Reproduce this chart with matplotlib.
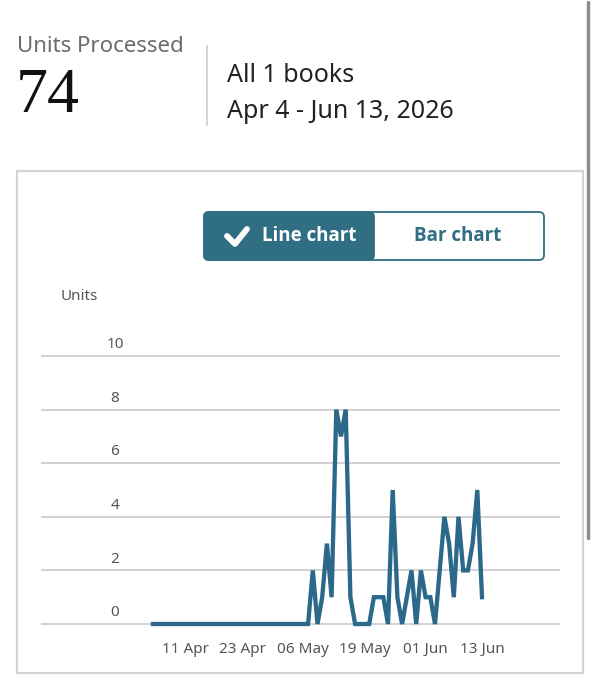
import matplotlib
matplotlib.use("Agg")
import matplotlib.pyplot as plt
import matplotlib.dates as mdates
from matplotlib.patches import FancyBboxPatch, Rectangle
import numpy as np
import pandas as pd

# header texts
title = "Units Processed"
total = "74"
books = "All 1 books"
period = "Apr 4 - Jun 13, 2026"

# daily units, Apr 4 .. Jun 13 2026
start, end = "2026-04-04", "2026-06-13"
units = [0, 0, 0, 0, 0, 0, 0, 0, 0, 0,
         0, 0, 0, 0, 0, 0, 0, 0, 0, 0,
         0, 0, 0, 0, 0, 0, 0, 0, 0, 0,
         0, 0, 0, 0, 2, 0, 1, 3, 1, 8,
         7, 8, 1, 0, 0, 0, 0, 1, 1, 1,
         0, 5, 1, 0, 1, 2, 0, 2, 1, 1,
         0, 2, 4, 3, 1, 4, 2, 2, 3, 5,
         1]
days = pd.date_range(start, end, freq="D")

yticks = [0, 2, 4, 6, 8, 10]
xticks = ["2026-04-11", "2026-04-23", "2026-05-06", "2026-05-19", "2026-06-01", "2026-06-13"]

W, H = 594, 680
teal = "#2f6e83"
line_col = "#2c688a"
grid_col = "#d2d2d2"
txt_col = "#555555"
ui_font = "Noto Sans"
bold_font = "Open Sans"

fig = plt.figure(figsize=(W / 100, H / 100), dpi=100)

# background layer in pixel coords
bg = fig.add_axes([0, 0, 1, 1], zorder=0)
bg.set_xlim(0, W)
bg.set_ylim(H, 0)
bg.axis("off")

bg.text(17, 46, title, fontsize=16, color="#6b6b6b", family=ui_font, va="center", ha="left")
bg.text(16, 97, total, fontsize=46, color="#111111", family="Liberation Serif", va="center", ha="left")
bg.plot([207, 207], [46, 125], color="#cccccc", lw=1.2)
bg.text(227, 75, books, fontsize=18, color="#222222", family=ui_font, va="center", ha="left")
bg.text(227, 112, period, fontsize=18, color="#222222", family=ui_font, va="center", ha="left")

# card
bg.add_patch(Rectangle((17, 171), 566, 502, fill=False, edgecolor="#d4d4d4", lw=1.6))
# scrollbar
bg.plot([588, 588], [2, 538], color="#8c8c8c", lw=2.5, solid_capstyle="round")

# toggle buttons
bg.add_patch(FancyBboxPatch((204, 212), 340, 48, boxstyle="round,pad=0,rounding_size=5",
                            facecolor="white", edgecolor=teal, lw=1.3))
bg.add_patch(FancyBboxPatch((204, 212), 170, 48, boxstyle="round,pad=0,rounding_size=5",
                            facecolor=teal, edgecolor=teal, lw=1.3))
# check mark
bg.plot([227, 235, 247], [236, 244, 229], color="white", lw=4.2,
        solid_capstyle="round", solid_joinstyle="round")
bg.text(309, 236, "Line chart", fontsize=13.5, color="white", family=bold_font, weight="bold",
        va="center", ha="center")
bg.text(458, 236, "Bar chart", fontsize=13.5, color=teal, family=bold_font, weight="bold",
        va="center", ha="center")
bg.text(61, 296, "Units", fontsize=11, color=txt_col, family=ui_font, va="center", ha="left")

# chart axes: left 42, right 559, bottom (y=0) 624, top (y=10) 356
ax = fig.add_axes([42 / W, 1 - 624 / H, (559 - 42) / W, (624 - 356) / H], zorder=1)
ax.patch.set_alpha(0)
px_day = (482 - 153) / (len(days) - 1)
x0 = days[0] - pd.Timedelta(days=(153 - 42) / px_day)
x1 = days[-1] + pd.Timedelta(days=(559 - 482) / px_day)
ax.set_xlim(x0, x1)
ax.set_ylim(0, 10)

for v in yticks:
    ax.axhline(v, color=grid_col, lw=1.4, zorder=1, clip_on=False)
    ax.text((115 - 42) / (559 - 42), v + 0.42, str(v), transform=ax.get_yaxis_transform(),
            fontsize=11, color=txt_col, family=ui_font, ha="center", va="center")

ax.plot(days, units, color=line_col, lw=3.1, zorder=3, clip_on=False, solid_joinstyle="miter")

ax.set_yticks([])
ax.set_xticks(pd.to_datetime(xticks))
ax.xaxis.set_major_formatter(mdates.DateFormatter("%d %b"))
ax.tick_params(axis="x", length=0, pad=13, labelsize=11, labelcolor=txt_col)
for lab in ax.get_xticklabels():
    lab.set_family(ui_font)
for s in ax.spines.values():
    s.set_visible(False)

fig.savefig("out.png", dpi=100)
